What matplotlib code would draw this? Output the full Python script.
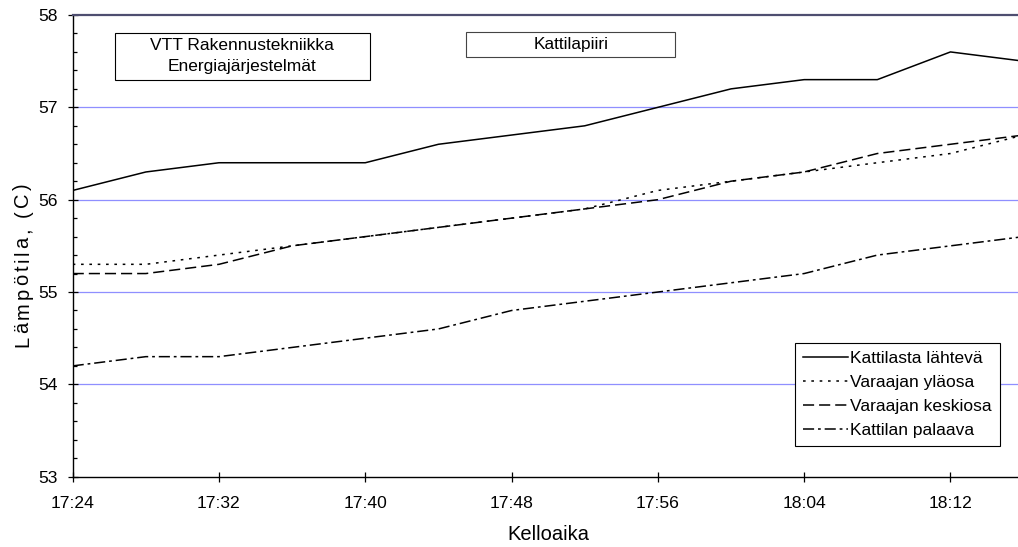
import matplotlib
matplotlib.use("Agg")
import matplotlib.pyplot as plt
from matplotlib.patches import Rectangle
from matplotlib.font_manager import FontProperties
from matplotlib.ticker import FixedLocator, MultipleLocator, FuncFormatter

# Measurement times and temperatures (°C)
times = ["17:24", "17:28", "17:32", "17:36", "17:40", "17:44", "17:48",
         "17:52", "17:56", "18:00", "18:04", "18:08", "18:12", "18:16"]
kattilasta_lahteva = [56.1, 56.3, 56.4, 56.4, 56.4, 56.6, 56.7,
                      56.8, 57.0, 57.2, 57.3, 57.3, 57.6, 57.5]
varaajan_ylaosa = [55.3, 55.3, 55.4, 55.5, 55.6, 55.7, 55.8,
                   55.9, 56.1, 56.2, 56.3, 56.4, 56.5, 56.7]
varaajan_keskiosa = [55.2, 55.2, 55.3, 55.5, 55.6, 55.7, 55.8,
                     55.9, 56.0, 56.2, 56.3, 56.5, 56.6, 56.7]
kattilan_palaava = [54.2, 54.3, 54.3, 54.4, 54.5, 54.6, 54.8,
                    54.9, 55.0, 55.1, 55.2, 55.4, 55.5, 55.6]

series_labels = ["Kattilasta lähtevä", "Varaajan yläosa",
                 "Varaajan keskiosa", "Kattilan palaava"]
x_tick_labels = ["17:24", "17:32", "17:40", "17:48", "17:56", "18:04", "18:12"]
y_ticks = [53, 54, 55, 56, 57, 58]


def to_minutes(t):
    h, m = t.split(":")
    return int(h) * 60 + int(m)


def fmt_time(v, pos=None):
    v = int(round(v))
    return f"{v // 60}:{v % 60:02d}"


plt.rcParams["font.family"] = ["Liberation Sans", "DejaVu Sans"]
plt.rcParams["lines.scale_dashes"] = False

W, H = 1018, 547
fig = plt.figure(figsize=(W / 100, H / 100), dpi=100)


def fx(px):
    return px / W


def fy(py):
    return 1 - py / H


x0, x_end = 72.7, 1023.6
y_top, y_bot = 15.0, 476.7
ax = fig.add_axes([fx(x0), fy(y_bot), fx(x_end - x0), (y_bot - y_top) / H])

x = [to_minutes(t) for t in times]
lw = 1.1
ax.plot(x, kattilasta_lahteva, color="black", lw=lw, linestyle="-",
        label=series_labels[0])
ax.plot(x, varaajan_ylaosa, color="black", lw=lw,
        linestyle=(0, (1.9, 4.1)), label=series_labels[1])
ax.plot(x, varaajan_keskiosa, color="black", lw=lw,
        linestyle=(0, (8.0, 3.6)), label=series_labels[2])
ax.plot(x, kattilan_palaava, color="black", lw=lw,
        linestyle=(0, (8.0, 2.8, 2.0, 2.8)), label=series_labels[3])

ax.set_xlim(to_minutes("17:24"), to_minutes("18:16"))
ax.set_ylim(y_ticks[0], y_ticks[-1])

ax.xaxis.set_major_locator(FixedLocator([to_minutes(t) for t in x_tick_labels]))
ax.xaxis.set_major_formatter(FuncFormatter(fmt_time))
ax.yaxis.set_major_locator(FixedLocator(y_ticks))
ax.yaxis.set_minor_locator(MultipleLocator(0.2))
ax.yaxis.set_major_formatter(FuncFormatter(lambda v, p: f"{v:.0f}"))

# horizontal gridlines
for yv in y_ticks[1:-1]:
    ax.axhline(yv, color="#8f8fff", lw=0.9, zorder=0)

ax.tick_params(axis="both", which="major", direction="inout", length=7.5,
               width=0.9, color="black", labelsize=12.6)
ax.tick_params(axis="x", which="major", pad=10.5)
ax.tick_params(axis="y", which="major", pad=7.2)
ax.tick_params(axis="y", which="minor", direction="in", length=3, width=0.9)

for side in ("left", "bottom"):
    ax.spines[side].set_color("black")
    ax.spines[side].set_linewidth(1.0)
ax.spines["right"].set_visible(False)
ax.spines["top"].set_color("#4e4e70")
ax.spines["top"].set_linewidth(1.6)

# x axis title
fig.text(fx(548), fy(540.5), "Kelloaika", ha="center", va="baseline",
         fontsize=14.5)

# y axis title, drawn letter by letter with slight tracking
ylabel = "Lämpötila, (C)"
yl_prop = FontProperties(family=["Liberation Sans"], size=14.5)
renderer = fig.canvas.get_renderer()


def text_w(s):
    return renderer.get_text_width_height_descent(s, yl_prop, ismath=False)[0]


ref_w = text_w("I")
offsets = [0.0] + [text_w(ylabel[:i] + "I") - ref_w for i in range(1, len(ylabel))]
full_len = offsets[-1] + text_w(ylabel[-1])
yl_start, yl_end = 347.0, 183.0
track = ((yl_start - yl_end) - full_len) / (len(ylabel) - 1)
for i, ch in enumerate(ylabel):
    if ch == " ":
        continue
    pos = yl_start - (offsets[i] + i * track)
    fig.text(fx(28.3), fy(pos), ch, rotation=90, rotation_mode="anchor",
             ha="left", va="baseline", fontproperties=yl_prop)

# annotation boxes
fig.patches.append(Rectangle((fx(115), fy(80)), fx(370 - 115), (80 - 33.3) / H,
                             transform=fig.transFigure, facecolor="white",
                             edgecolor="black", lw=0.8, zorder=5))
fig.text(fx(242), fy(46), "VTT Rakennustekniikka", ha="center", va="center",
         fontsize=12.5, zorder=6)
fig.text(fx(242), fy(66), "Energiajärjestelmät", ha="center", va="center",
         fontsize=12.5, zorder=6)

fig.patches.append(Rectangle((fx(466), fy(57)), fx(675.3 - 466), (57 - 32) / H,
                             transform=fig.transFigure, facecolor="white",
                             edgecolor="#444444", lw=0.8, zorder=5))
fig.text(fx(570.7), fy(44.5), "Kattilapiiri", ha="center", va="center",
         fontsize=12.4, zorder=6)

leg = ax.legend(loc="upper left", bbox_to_anchor=(fx(795), fy(342.7)),
                bbox_transform=fig.transFigure, fontsize=12.5,
                frameon=True, fancybox=False, framealpha=1,
                borderaxespad=0, borderpad=0.45, labelspacing=0.52,
                handlelength=2.6, handletextpad=0.13)
leg.get_frame().set_edgecolor("black")
leg.get_frame().set_linewidth(0.8)

fig.savefig("out.png", dpi=100)
